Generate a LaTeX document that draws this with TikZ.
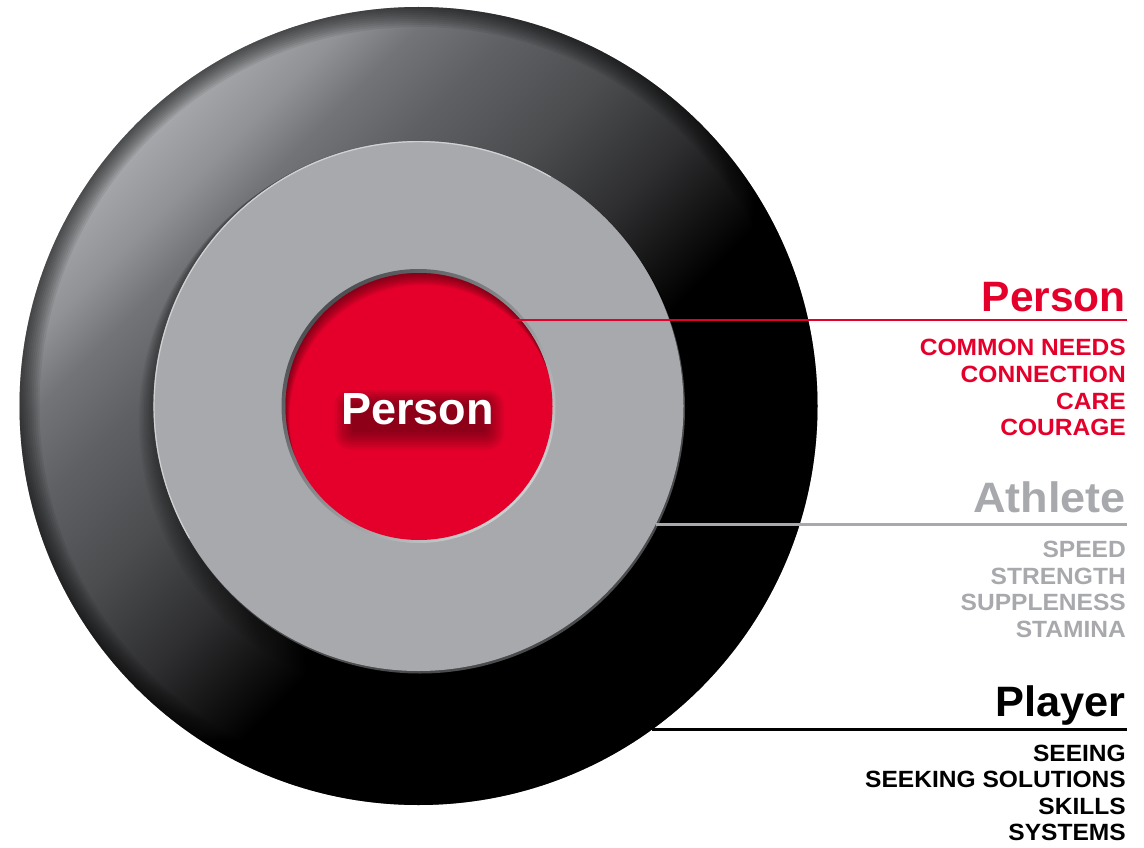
\documentclass[tikz,border=0pt]{standalone}
\usepackage{fontspec}
\setmainfont{Liberation Sans}
\newfontfamily\itemfont[FakeStretch=1.045]{Liberation Sans}
\usepackage{graphicx}
\definecolor{pred}{HTML}{E4002B}
\definecolor{pgray}{HTML}{A7A9AC}
\definecolor{o1}{HTML}{2E2E30}
\definecolor{o2}{HTML}{4A4C4E}
\definecolor{o3}{HTML}{5E6063}
\definecolor{o4}{HTML}{727477}
\definecolor{o5}{HTML}{909295}
\definecolor{o6}{HTML}{A4A6A9}
\definecolor{gdark}{HTML}{4A4B4D}
\definecolor{ghl}{HTML}{CFD1D3}
\definecolor{wdark}{HTML}{4E4F52}
\definecolor{wlight}{HTML}{CDCFD1}
\pgfdeclareverticalshading{outershade}{100bp}{color(0bp)=(black); color(43bp)=(black); color(50bp)=(o1); color(56.3bp)=(o2); color(62.5bp)=(o3); color(66.9bp)=(o4); color(70.1bp)=(o5); color(73.8bp)=(o6); color(100bp)=(o6)}
\begin{document}
\begin{tikzpicture}[x=1pt,y=-1pt,
  heading/.style={anchor=base east, inner sep=0pt, font=\fontsize{42.5}{42.5}\selectfont\bfseries},
  item/.style={anchor=base east, inner sep=0pt, font=\fontsize{23.5}{26}\selectfont\itemfont\bfseries},
  centre/.style={anchor=base, inner sep=0pt, font=\fontsize{45}{45}\selectfont\bfseries},
  leader/.style={line width=2.2pt}]
\useasboundingbox (0,0) rectangle (1144,848);
\coordinate (C) at (418.5,406);
% outer ring
\shade[shading=outershade, shading angle=45] (C) circle (399);
\foreach \i in {1,...,10}
  \fill[black, fill opacity=0.07, even odd rule] (C) circle (399) circle ({399-2*\i});
% soft shadow of the grey disc
\foreach \i in {1,...,8}
  \fill[black, fill opacity=0.05] (418.5-0.5*\i, 406+1.8*\i) circle ({266+1.2*\i});
% grey disc with bevel
\fill[gdark] (420,408.5) circle (265);
\fill[pgray] (C) circle (265);
\draw[ghl, line width=1.2pt] (418.5,406) ++(150:264.4) arc[start angle=150, end angle=300, radius=264.4];
% red well
\shade[top color=wdark, bottom color=wlight, shading angle=45] (C) circle (137);
\fill[pred] (419,406.5) circle (133.5);
\begin{scope}
  \clip (419,406.5) circle (133.5);
  \foreach \i in {1,...,8}
    \fill[black, fill opacity=0.06, even odd rule] (419,406.5) circle (134) (419+0.5*\i, 406.5+1.5*\i) circle (133.5);
\end{scope}
% soft drop shadow under the centre label
\foreach \i in {0,...,7}
  \fill[black, fill opacity=0.055, rounded corners={2+2*\i}] (352-2.5*\i, 404-2*\i) rectangle (486+2.5*\i, 432+2.5*\i);
\node[centre, text=white] (centre) at (417.5,424) {Person};
% leader lines
\coordinate (rs) at (505,320);   \coordinate (re) at (1126.5,320);
\coordinate (gs) at (656,524.5); \coordinate (ge) at (1126.5,524.5);
\coordinate (bs) at (652,729.5); \coordinate (be) at (1126.5,729.5);
\draw[leader, pred] (rs) -- (re);
\draw[leader, pgray] (gs) -- (ge);
\draw[leader, black] (bs) -- (be);
% headings
\node[heading, text=pred] (hPerson) at (1126,311.7) {Person};
\node[heading, text=pgray] (hAthlete) at (1126,512) {\scalebox{1.06}[1]{Athlete}};
\node[heading, text=black] (hPlayer) at (1126,716) {\scalebox{1.02}[1]{Player}};
% items
\node[item, text=pred] (p1) at (1126,355.7) {COMMON NEEDS};
\node[item, text=pred] (p2) at (1126,382.3) {CONNECTION};
\node[item, text=pred] (p3) at (1126,409) {CARE};
\node[item, text=pred] (p4) at (1126,435.7) {COURAGE};
\node[item, text=pgray] (a1) at (1126,557.5) {SPEED};
\node[item, text=pgray] (a2) at (1126,584) {STRENGTH};
\node[item, text=pgray] (a3) at (1126,610.5) {SUPPLENESS};
\node[item, text=pgray] (a4) at (1126,637) {STAMINA};
\node[item, text=black] (b1) at (1126,761) {SEEING};
\node[item, text=black] (b2) at (1126,787.5) {SEEKING SOLUTIONS};
\node[item, text=black] (b3) at (1126,814) {SKILLS};
\node[item, text=black] (b4) at (1126,840.5) {SYSTEMS};
\end{tikzpicture}
\end{document}
